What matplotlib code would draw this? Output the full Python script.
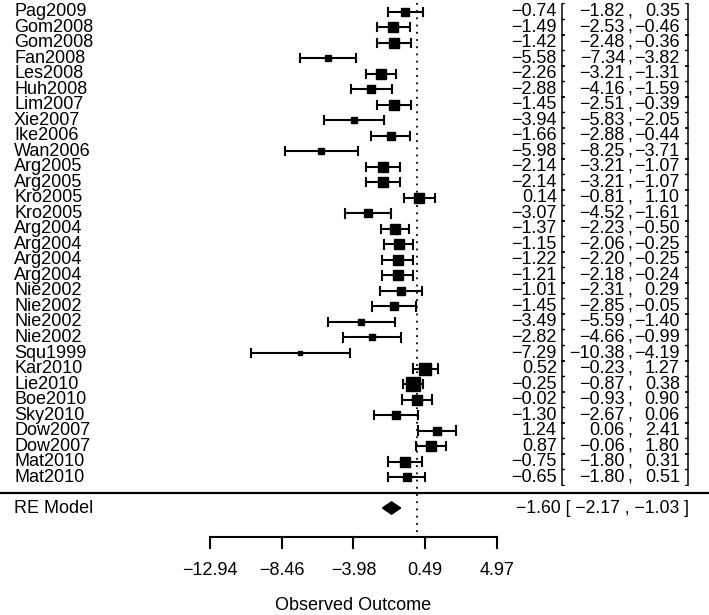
import numpy as np
import matplotlib.pyplot as plt

plt.rcParams['font.family'] = ['Liberation Sans', 'DejaVu Sans']

studies = ["Pag2009", "Gom2008", "Gom2008", "Fan2008", "Les2008", "Huh2008", "Lim2007",
           "Xie2007", "Ike2006", "Wan2006", "Arg2005", "Arg2005", "Kro2005", "Kro2005",
           "Arg2004", "Arg2004", "Arg2004", "Arg2004", "Nie2002", "Nie2002", "Nie2002",
           "Nie2002", "Squ1999", "Kar2010", "Lie2010", "Boe2010", "Sky2010", "Dow2007",
           "Dow2007", "Mat2010", "Mat2010"]
est = [-0.74, -1.49, -1.42, -5.58, -2.26, -2.88, -1.45, -3.94, -1.66, -5.98, -2.14, -2.14,
       0.14, -3.07, -1.37, -1.15, -1.22, -1.21, -1.01, -1.45, -3.49, -2.82, -7.29, 0.52,
       -0.25, -0.02, -1.30, 1.24, 0.87, -0.75, -0.65]
ci_lo = [-1.82, -2.53, -2.48, -7.34, -3.21, -4.16, -2.51, -5.83, -2.88, -8.25, -3.21, -3.21,
         -0.81, -4.52, -2.23, -2.06, -2.20, -2.18, -2.31, -2.85, -5.59, -4.66, -10.38, -0.23,
         -0.87, -0.93, -2.67, 0.06, -0.06, -1.80, -1.80]
ci_hi = [0.35, -0.46, -0.36, -3.82, -1.31, -1.59, -0.39, -2.05, -0.44, -3.71, -1.07, -1.07,
         1.10, -1.61, -0.50, -0.25, -0.25, -0.24, 0.29, -0.05, -1.40, -0.99, -4.19, 1.27,
         0.38, 0.90, 0.06, 2.41, 1.80, 0.31, 0.51]
re_est, re_lo, re_hi = -1.60, -2.17, -1.03
xticks = [-12.94, -8.46, -3.98, 0.49, 4.97]

est = np.array(est)
lo = np.array(ci_lo)
hi = np.array(ci_hi)
k = len(est)
rows = np.arange(k, 0, -1)

# box size from precision
prec = 1.0 / ((hi - lo) / 3.92)
psize = (prec - prec.min()) / (prec.max() - prec.min())
msize = (5 + psize * 8.5) * 0.72

fig = plt.figure(figsize=(7.09, 6.15), dpi=100)
ax = fig.add_axes([0, 0, 1, 1])
ax.set_xlim(-26.06, 18.23)
ax.set_ylim(-7.9, k + 0.77)
ax.axis('off')

fs = 13
def fmt(v):
    return f"{v:.2f}".replace('-', '\u2212')

for y, e, l, h, s, name in zip(rows, est, lo, hi, msize, studies):
    ax.plot([l, h], [y, y], color='black', lw=1.5, solid_capstyle='butt')
    ax.plot([l, l], [y - 0.26, y + 0.26], color='black', lw=1.5)
    ax.plot([h, h], [y - 0.26, y + 0.26], color='black', lw=1.5)
    ax.plot(e, y, marker='s', ms=s, color='black', mec='black')
    ax.text(-25.18, y, name, ha='left', va='center', fontsize=fs)
    ax.text(8.72, y, fmt(e), ha='right', va='center', fontsize=fs)
    ax.text(8.92, y, "[", ha='left', va='center', fontsize=fs)
    ax.text(12.98, y, fmt(l), ha='right', va='center', fontsize=fs)
    ax.text(13.28, y, ",", ha='center', va='center', fontsize=fs)
    ax.text(16.41, y, fmt(h), ha='right', va='center', fontsize=fs)
    ax.text(16.85, y, "]", ha='center', va='center', fontsize=fs)

# separator line
ax.plot([-27, 19], [0, 0], color='black', lw=1.6)

# reference line at zero
ax.plot([0, 0], [-2.55, k + 1], color='black', lw=1.3, linestyle=(0, (1, 3)))

# summary diamond
ax.fill([re_lo, re_est, re_hi, re_est], [-1, -0.6, -1, -1.4], color='black')
ax.text(-25.18, -1, "RE Model", ha='left', va='center', fontsize=fs)
ax.text(17.0, -1, f"{fmt(re_est)} [ {fmt(re_lo)} , {fmt(re_hi)} ]",
        ha='right', va='center', fontsize=fs - 0.3)

# x axis
ax.plot([xticks[0], xticks[-1]], [-2.87, -2.87], color='black', lw=1.5)
for t in xticks:
    ax.plot([t, t], [-2.87, -3.58], color='black', lw=1.5)
    ax.text(t, -5.06, fmt(t), ha='center', va='center', fontsize=fs)
ax.text((xticks[0] + xticks[-1]) / 2, -7.26, "Observed Outcome", ha='center', va='center',
        fontsize=fs)

fig.savefig('out.png', dpi=100)
